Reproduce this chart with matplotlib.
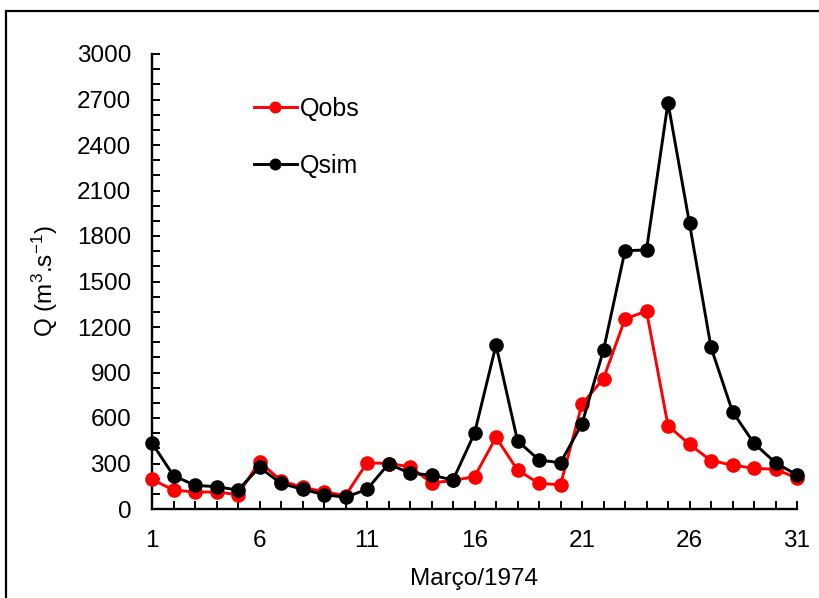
import matplotlib
matplotlib.use("Agg")
import matplotlib.pyplot as plt
from matplotlib.patches import Rectangle
from matplotlib.ticker import MultipleLocator, FixedLocator

days = list(range(1, 32))
qobs = [195, 125, 112, 112, 95, 312, 187, 143, 114, 88, 305, 300, 279, 172, 188,
        213, 472, 257, 169, 160, 692, 860, 1253, 1305, 550, 426, 319, 290, 268, 262, 205]
qsim = [435, 220, 156, 147, 125, 275, 169, 130, 95, 77, 130, 297, 236, 224, 191,
        499, 1081, 450, 323, 305, 562, 1048, 1703, 1708, 2679, 1883, 1066, 642, 433, 305, 224]
xticks = [1, 6, 11, 16, 21, 26, 31]
yticks = list(range(0, 3001, 300))

plt.rcParams['font.family'] = ['Liberation Sans', 'DejaVu Sans']
plt.rcParams['mathtext.fontset'] = 'custom'
plt.rcParams['mathtext.rm'] = 'Liberation Sans'
plt.rcParams['mathtext.it'] = 'Liberation Sans'

fig = plt.figure(figsize=(8.19, 5.98), dpi=100)
ax = fig.add_axes([152/819, 1-509/598, (797-152)/819, (509-54)/598])

ax.plot(days, qobs, color='#FF0000', lw=2.1, marker='o', ms=9.5, label='Qobs', clip_on=False, zorder=3)
ax.plot(days, qsim, color='black', lw=2.1, marker='o', ms=9.5, label='Qsim', clip_on=False, zorder=4)

ax.set_xlim(1, 31)
ax.set_ylim(0, 3000)
ax.xaxis.set_major_locator(FixedLocator(xticks))
ax.xaxis.set_minor_locator(MultipleLocator(1))
ax.yaxis.set_major_locator(FixedLocator(yticks))
ax.yaxis.set_minor_locator(MultipleLocator(100))
ax.tick_params(axis='both', which='both', direction='in', width=1.4, length=5.5, labelsize=17.5, color='black')
ax.tick_params(axis='x', which='both', pad=15)
ax.tick_params(axis='y', which='both', pad=15)
for s in ['top', 'right']:
    ax.spines[s].set_visible(False)
for s in ['left', 'bottom']:
    ax.spines[s].set_linewidth(1.7)

ax.set_xlabel('Março/1974', fontsize=17.5, labelpad=12)
ax.set_ylabel('Q (m$^{3}$.s$^{-1}$)', fontsize=17.5, labelpad=12)

ax.legend(loc='center left', bbox_to_anchor=(102/645, 0.8165), frameon=False, fontsize=18,
          handlelength=1.7, labelspacing=1.3, handletextpad=0.12, markerscale=0.8,
          borderpad=0, borderaxespad=0)

fig.patches.append(Rectangle((6/819, -0.1), 1.2, 1.1 - 11/598, transform=fig.transFigure,
                             fill=False, edgecolor='black', lw=1.6, zorder=10))

fig.savefig('out.png', dpi=100)
